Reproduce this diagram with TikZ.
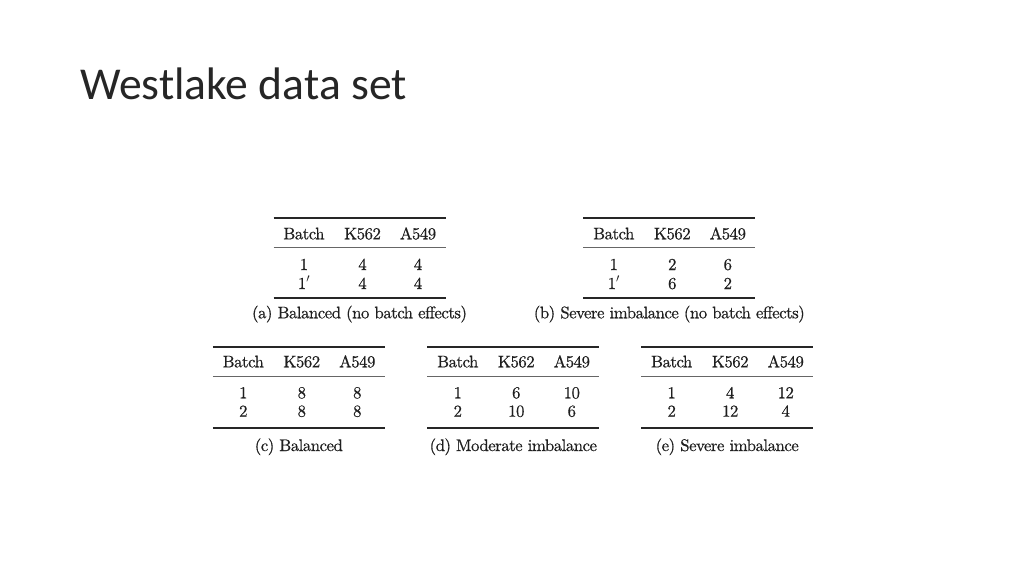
\documentclass[tikz,border=0pt]{standalone}
\usepackage{fontspec}
\newfontfamily\titlefont{Carlito}
\newfontfamily\cmfont{lmroman10-regular}[Extension=.otf, RawFeature={embolden=0.5}, LetterSpace=-3.0]
\tikzset{
  cell/.style={anchor=base, inner sep=0pt, font=\cmfont\fontsize{16.8}{20}\selectfont, text=black!88},
  captext/.style={anchor=base, inner sep=0pt, font=\cmfont\fontsize{16.8}{20}\selectfont, text=black!88},
  heavyrule/.style={line width=1.8pt, black!85},
  lightrule/.style={line width=1.1pt, black!60},
}
\newcommand\onep{1\smash{$'$}}
% #1 name, #2 centre x, #3 row-1 batch, #4 row-1 K562, #5 row-1 A549, #6 row-2 batch, #7 row-2 K562, #8 row-2 A549, #9 caption
\newcommand\mktab[9]{%
  \coordinate (#1tl) at (#2-86,\ytop);
  \coordinate (#1tr) at (#2+86,\ytop);
  \coordinate (#1ml) at (#2-86,\ymid);
  \coordinate (#1mr) at (#2+86,\ymid);
  \coordinate (#1bl) at (#2-86,\ybot);
  \coordinate (#1br) at (#2+86,\ybot);
  \draw[heavyrule] (#1tl) -- (#1tr);
  \draw[lightrule] (#1ml) -- (#1mr);
  \draw[heavyrule] (#1bl) -- (#1br);
  \node[cell] (#1h1) at (#2-55.5,\yhead) {Batch};
  \node[cell] (#1h2) at (#2+3,\yhead) {K562};
  \node[cell] (#1h3) at (#2+58.5,\yhead) {A549};
  \node[cell] (#1a1) at (#2-55.5,\yra) {#3};
  \node[cell] (#1a2) at (#2+3,\yra) {#4};
  \node[cell] (#1a3) at (#2+58.5,\yra) {#5};
  \node[cell] (#1b1) at (#2-55.5,\yrb) {#6};
  \node[cell] (#1b2) at (#2+3,\yrb) {#7};
  \node[cell] (#1b3) at (#2+58.5,\yrb) {#8};
  \node[captext] (#1cap) at (#2,\ycap) {#9};
}
\begin{document}
\begin{tikzpicture}[x=1pt,y=-1pt]
\useasboundingbox[fill=white] (0,0) rectangle (1024,576);
\node[anchor=base west, inner sep=0pt, font=\titlefont\fontsize{45.6}{50}\selectfont, text=black!85] (title) at (80,99.3) {Westlake data set};
% first row of tables
\def\ytop{218.3}\def\yhead{239.3}\def\ymid{247.7}\def\yra{270}\def\yrb{289}\def\ybot{298.3}\def\ycap{318.3}
\mktab{a}{359.5}{1}{4}{4}{\onep}{4}{4}{(a) Balanced (no batch effects)}
\mktab{b}{669.3}{1}{2}{6}{\onep}{6}{2}{(b) Severe imbalance (no batch effects)}
% second row of tables
\def\ytop{346.7}\def\yhead{367.3}\def\ymid{376.7}\def\yra{398.3}\def\yrb{416.7}\def\ybot{428.3}\def\ycap{451}
\mktab{c}{298.8}{1}{8}{8}{2}{8}{8}{(c) Balanced}
\mktab{d}{513.3}{1}{6}{10}{2}{10}{6}{(d) Moderate imbalance}
\mktab{e}{727.2}{1}{4}{12}{2}{12}{4}{(e) Severe imbalance}
\end{tikzpicture}
\end{document}
